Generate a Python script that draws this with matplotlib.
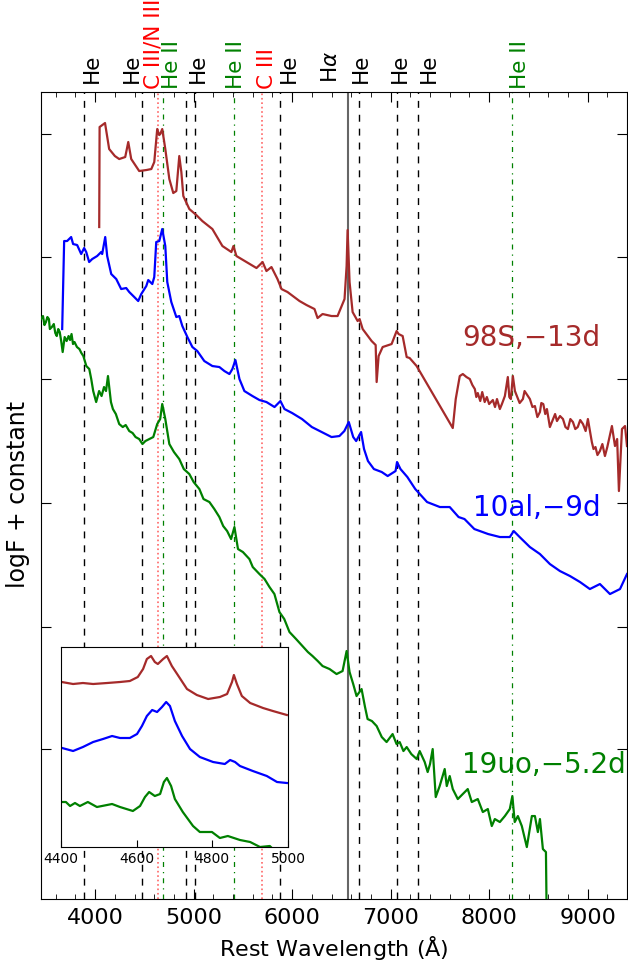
import numpy as np
import matplotlib
matplotlib.use('Agg')
import matplotlib.pyplot as plt
import matplotlib.transforms as mtransforms

# spectra (rest wavelength, logF + constant)
wl_98s = [4041, 4045, 4100, 4142, 4200, 4244, 4305, 4336, 4366, 4447, 4520, 4570, 4600, 4630, 4650,
          4661, 4681, 4712, 4753, 4793, 4824, 4854, 4875, 4895, 4956, 5027, 5088, 5190, 5292, 5383,
          5404, 5434, 5536, 5638, 5700, 5739, 5790, 5851, 5892, 5953, 6075, 6146, 6227, 6258, 6309,
          6400, 6461, 6532, 6553, 6563, 6583, 6614, 6665, 6685, 6716, 6807, 6848, 6858, 6878, 6919,
          7010, 7061, 7081, 7122, 7163, 7193, 7264, 7631, 7661, 7702, 7733, 7770, 7804, 7830, 7855,
          7870, 7885, 7910, 7930, 7955, 7977, 8000, 8038, 8060, 8080, 8109, 8130, 8160, 8190, 8205,
          8221, 8241, 8262, 8282, 8310, 8343, 8360, 8380, 8414, 8440, 8465, 8490, 8516, 8530, 8550,
          8570, 8587, 8617, 8650, 8670, 8689, 8720, 8750, 8775, 8800, 8825, 8851, 8875, 8900, 8925,
          8953, 8980, 9003, 9043, 9060, 9080, 9100, 9125, 9150, 9176, 9200, 9247, 9278, 9300, 9318,
          9349, 9380, 9400]
f_98s = [6.72, 7.72, 7.76, 7.50, 7.43, 7.40, 7.42, 7.57, 7.40, 7.28, 7.29, 7.30, 7.37, 7.70, 7.64,
         7.65, 7.70, 7.50, 7.20, 7.06, 7.08, 7.43, 7.27, 7.03, 6.90, 6.84, 6.78, 6.70, 6.53, 6.47,
         6.53, 6.43, 6.37, 6.31, 6.37, 6.28, 6.32, 6.20, 6.10, 6.07, 5.98, 5.94, 5.90, 5.81, 5.85,
         5.83, 5.83, 6.00, 6.33, 6.69, 6.17, 5.87, 5.78, 5.80, 5.70, 5.58, 5.54, 5.17, 5.43, 5.52,
         5.55, 5.68, 5.65, 5.63, 5.42, 5.41, 5.33, 4.71, 5.00, 5.23, 5.25, 5.22, 5.20, 5.14, 5.10,
         5.02, 5.06, 4.98, 5.07, 4.97, 5.02, 4.95, 4.99, 4.92, 5.00, 4.90, 4.95, 5.03, 5.22, 5.02,
         5.00, 5.23, 5.08, 5.03, 4.96, 5.00, 5.08, 5.05, 5.00, 4.92, 4.93, 4.82, 4.87, 4.96, 4.95,
         4.85, 4.90, 4.72, 4.80, 4.85, 4.78, 4.83, 4.80, 4.72, 4.70, 4.80, 4.77, 4.70, 4.72, 4.79,
         4.75, 4.68, 4.80, 4.57, 4.50, 4.52, 4.44, 4.48, 4.55, 4.43, 4.52, 4.73, 4.53, 4.60, 4.08,
         4.70, 4.73, 4.53]

wl_10al = [3665, 3685, 3715, 3756, 3776, 3817, 3858, 3888, 3909, 3939, 3970, 4020, 4061, 4071, 4102,
           4122, 4163, 4214, 4264, 4315, 4346, 4397, 4437, 4468, 4519, 4539, 4580, 4600, 4620, 4651,
           4681, 4712, 4732, 4773, 4824, 4854, 4885, 4936, 4987, 5037, 5108, 5190, 5261, 5312, 5363,
           5393, 5424, 5465, 5515, 5597, 5668, 5739, 5821, 5881, 5922, 6000, 6100, 6200, 6300, 6400,
           6480, 6530, 6575, 6620, 6650, 6700, 6730, 6770, 6830, 6910, 6970, 7050, 7065, 7100, 7170,
           7250, 7370, 7500, 7600, 7690, 7750, 7850, 7990, 8110, 8210, 8250, 8310, 8414, 8516, 8617,
           8719, 8821, 8923, 9023, 9125, 9227, 9329, 9400]
f_10al = [5.70, 6.58, 6.58, 6.62, 6.55, 6.54, 6.45, 6.51, 6.47, 6.37, 6.40, 6.43, 6.47, 6.45, 6.62,
          6.43, 6.25, 6.20, 6.10, 6.11, 6.07, 6.02, 5.98, 6.05, 6.13, 6.19, 6.15, 6.22, 6.57, 6.58,
          6.70, 6.53, 6.17, 5.97, 5.82, 5.83, 5.73, 5.62, 5.52, 5.48, 5.38, 5.33, 5.32, 5.28, 5.25,
          5.30, 5.39, 5.20, 5.08, 5.03, 4.99, 4.97, 4.92, 4.98, 4.90, 4.86, 4.80, 4.72, 4.67, 4.62,
          4.63, 4.68, 4.77, 4.62, 4.58, 4.67, 4.50, 4.38, 4.30, 4.27, 4.23, 4.28, 4.37, 4.30, 4.22,
          4.10, 3.97, 3.92, 3.92, 3.82, 3.80, 3.70, 3.65, 3.62, 3.62, 3.68, 3.62, 3.52, 3.45, 3.35,
          3.28, 3.23, 3.17, 3.10, 3.15, 3.05, 3.10, 3.25]

wl_19uo = [3450, 3470, 3485, 3500, 3515, 3530, 3540, 3560, 3580, 3595, 3610, 3625, 3640, 3655, 3670,
           3690, 3710, 3730, 3745, 3760, 3775, 3790, 3815, 3840, 3860, 3880, 3910, 3940, 3960, 3980,
           4010, 4040, 4065, 4090, 4110, 4130, 4160, 4180, 4210, 4244, 4280, 4310, 4346, 4380, 4410,
           4447, 4480, 4510, 4550, 4590, 4630, 4660, 4681, 4712, 4753, 4800, 4854, 4900, 4956, 5000,
           5058, 5100, 5160, 5210, 5261, 5300, 5340, 5380, 5414, 5450, 5500, 5566, 5600, 5668, 5720,
           5770, 5820, 5871, 5920, 5973, 6040, 6105, 6160, 6207, 6260, 6309, 6380, 6451, 6512, 6553,
           6583, 6620, 6654, 6705, 6740, 6766, 6810, 6858, 6910, 6959, 7020, 7060, 7092, 7130, 7163,
           7210, 7265, 7295, 7346, 7376, 7400, 7427, 7458, 7498, 7549, 7570, 7600, 7631, 7682, 7733,
           7783, 7824, 7885, 7936, 7987, 8027, 8058, 8109, 8160, 8210, 8236, 8260, 8292, 8332, 8383,
           8434, 8465, 8495, 8516, 8546, 8577, 8588]
f_19uo = [5.80, 5.83, 5.74, 5.77, 5.82, 5.80, 5.70, 5.72, 5.75, 5.66, 5.63, 5.70, 5.67, 5.58, 5.47,
          5.62, 5.58, 5.63, 5.59, 5.65, 5.55, 5.57, 5.52, 5.50, 5.46, 5.43, 5.33, 5.30, 5.20, 5.08,
          4.97, 5.08, 5.03, 5.12, 5.08, 5.23, 4.97, 4.90, 4.85, 4.75, 4.72, 4.74, 4.68, 4.66, 4.62,
          4.60, 4.55, 4.58, 4.60, 4.62, 4.75, 4.80, 4.95, 4.80, 4.55, 4.47, 4.40, 4.30, 4.25, 4.17,
          4.10, 4.00, 3.97, 3.90, 3.82, 3.73, 3.68, 3.60, 3.72, 3.50, 3.47, 3.40, 3.32, 3.25, 3.20,
          3.12, 3.05, 2.87, 2.80, 2.67, 2.60, 2.53, 2.47, 2.43, 2.38, 2.33, 2.30, 2.25, 2.28, 2.48,
          2.27, 2.15, 2.03, 2.10, 1.92, 1.80, 1.78, 1.73, 1.62, 1.57, 1.65, 1.55, 1.57, 1.48, 1.52,
          1.45, 1.40, 1.48, 1.37, 1.27, 1.35, 1.50, 1.02, 1.13, 1.30, 1.13, 1.23, 1.10, 1.00, 1.05,
          1.10, 0.97, 1.00, 0.87, 0.90, 0.73, 0.80, 0.77, 0.83, 0.90, 1.03, 0.77, 0.83, 0.73, 0.52,
          0.83, 0.83, 0.67, 0.80, 0.50, 0.47, -0.50]

# inset, 4400-5000 A
in_wl_98s = [4402, 4432, 4458, 4485, 4522, 4556, 4582, 4603, 4617, 4627, 4638, 4648, 4656, 4670, 4680,
             4693, 4707, 4733, 4759, 4789, 4820, 4839, 4852, 4857, 4865, 4878, 4900, 4934, 4960, 4997]
in_f_98s = [1.65, 1.63, 1.64, 1.63, 1.64, 1.65, 1.66, 1.70, 1.78, 1.88, 1.91, 1.85, 1.83, 1.88, 1.91,
            1.81, 1.73, 1.58, 1.52, 1.48, 1.50, 1.53, 1.65, 1.72, 1.63, 1.51, 1.44, 1.39, 1.36, 1.32]
in_wl_10al = [4403, 4432, 4458, 4485, 4511, 4535, 4556, 4582, 4601, 4614, 4627, 4641, 4654, 4667, 4678,
              4688, 4701, 4720, 4741, 4767, 4802, 4833, 4847, 4860, 4873, 4907, 4944, 4971, 4997]
in_f_10al = [0.99, 0.96, 1.00, 1.05, 1.08, 1.11, 1.09, 1.09, 1.13, 1.21, 1.31, 1.37, 1.35, 1.40, 1.45,
             1.41, 1.26, 1.11, 0.98, 0.90, 0.85, 0.83, 0.87, 0.85, 0.81, 0.76, 0.71, 0.65, 0.64]
in_wl_19uo = [4403, 4413, 4424, 4437, 4450, 4471, 4495, 4535, 4556, 4590, 4609, 4622, 4633, 4648, 4662,
              4672, 4680, 4691, 4701, 4722, 4749, 4767, 4799, 4820, 4841, 4873, 4900, 4926, 4952, 4960]
in_f_19uo = [0.45, 0.45, 0.41, 0.44, 0.41, 0.45, 0.40, 0.43, 0.40, 0.36, 0.41, 0.50, 0.55, 0.51, 0.53,
             0.65, 0.69, 0.61, 0.48, 0.35, 0.21, 0.15, 0.15, 0.09, 0.11, 0.07, 0.05, 0.00, 0.01, -0.02]

# line identifications
he_lines = [3889, 4471, 4922, 5016, 5876, 6678, 7065, 7281]
heii_lines = [4686, 5411, 8236]
ciii_lines = [4640, 5696]
halpha = 6563

# labels above the plot: text, x position, colour
labels = ['He', 'He', 'C III/N III', 'He II', 'He', 'He II', 'C III', 'He',
          r'H$\alpha$', 'He', 'He', 'He', 'He II']
label_x = [3969, 4376, 4590, 4783, 5038, 5434, 5740, 5963, 6391, 6696, 7093, 7388, 8313]
label_c = ['k', 'k', 'red', 'green', 'k', 'green', 'red', 'k', 'k', 'k', 'k', 'k', 'green']

names = ['98S,\u221213d', '10al,\u22129d', '19uo,\u22125.2d']
colors = ['brown', 'blue', 'green']

fig = plt.figure(figsize=(6.28, 9.62), dpi=100)
ax = fig.add_axes([0.0653, 0.0644, 0.9331, 0.8389])

for w in he_lines:
    ax.axvline(w, color='k', ls='--', lw=1.0, dashes=(5, 5), zorder=1)
for w in heii_lines:
    ax.axvline(w, color='green', ls='-.', lw=0.9, dashes=(4, 4, 1, 4), zorder=1)
for w in ciii_lines:
    ax.axvline(w, color='red', ls=':', lw=1.2, alpha=0.6, zorder=1)
ax.axvline(halpha, color='0.4', ls='-', lw=1.5, zorder=1)

ax.plot(wl_98s, f_98s, color=colors[0], lw=1.6, zorder=3)
ax.plot(wl_10al, f_10al, color=colors[1], lw=1.6, zorder=3)
ax.plot(wl_19uo, f_19uo, color=colors[2], lw=1.6, zorder=3)

ax.text(7723, 5.62, names[0], color=colors[0], fontsize=20, va='center', ha='left')
ax.text(7835, 3.92, names[1], color=colors[1], fontsize=20, va='center', ha='left')
ax.text(7723, 1.35, names[2], color=colors[2], fontsize=20, va='center', ha='left')

trans = mtransforms.blended_transform_factory(ax.transData, ax.transAxes)
for t, x, c in zip(labels, label_x, label_c):
    yy = 1.012 if c == 'k' else 1.005
    ax.text(x, yy, t, color=c, rotation=90, fontsize=15.5, ha='center', va='bottom',
            transform=trans, clip_on=False)

ax.set_xlim(3450, 9400)
ax.set_ylim(0, 8.07)
ax.set_xticks([4000, 5000, 6000, 7000, 8000, 9000])
ax.set_xticks(np.arange(3600, 9400, 200), minor=True)
ax.set_yticks([1.50, 2.72, 3.96, 5.20, 6.42, 7.65])
ax.set_yticklabels([])
ax.tick_params(which='both', direction='in', top=True, right=True)
ax.tick_params(which='major', length=7, labelsize=16, pad=6)
ax.tick_params(which='minor', length=3.5)
ax.set_xlabel(r'Rest Wavelength ($\mathrm{\AA}$)', fontsize=16)
fig.text(0.029, 0.4865, 'logF + constant', fontsize=17, rotation=90, ha='center', va='center')

# inset zoom on 4400-5000 A
axin = fig.add_axes([0.0971, 0.1185, 0.3615, 0.2079])
axin.plot(in_wl_98s, in_f_98s, color=colors[0], lw=1.6)
axin.plot(in_wl_10al, in_f_10al, color=colors[1], lw=1.6)
axin.plot(in_wl_19uo, in_f_19uo, color=colors[2], lw=1.6)
axin.set_xlim(4400, 5000)
axin.set_ylim(0, 2.0)
axin.set_xticks([4400, 4600, 4800, 5000])
axin.set_yticks([])
axin.tick_params(direction='in', labelsize=10, length=5, pad=3)

fig.savefig('out.png', dpi=100)
